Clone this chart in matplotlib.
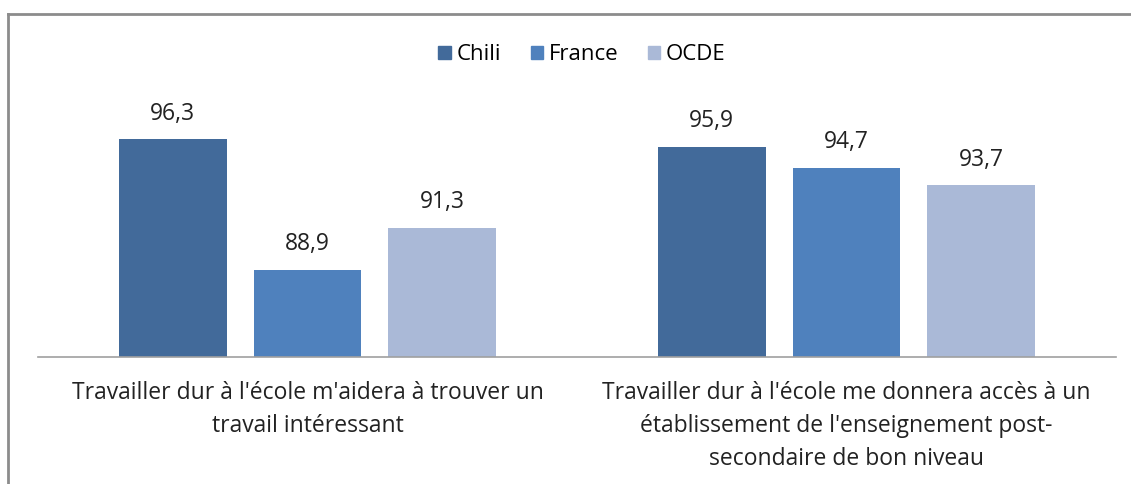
import numpy as np
import matplotlib.pyplot as plt
from matplotlib.lines import Line2D

# Données
categories = ["Travailler dur à l'école m'aidera à trouver un\ntravail intéressant",
              "Travailler dur à l'école me donnera accès à un\nétablissement de l'enseignement post-\nsecondaire de bon niveau"]
series = ["Chili", "France", "OCDE"]
chili = [96.3, 95.9]
france = [88.9, 94.7]
ocde = [91.3, 93.7]
colors = ["#426A9A", "#4F81BD", "#AAB9D7"]

plt.rcParams['font.family'] = ['Open Sans', 'DejaVu Sans']

fig = plt.figure(figsize=(11.31, 4.84), dpi=100)
ax = fig.add_axes([38 / 1131, (484 - 357) / 484, (1116 - 38) / 1131, (357 - 74) / 484])

x = np.arange(len(categories))
width = 0.2
step = 0.25
for i, (name, vals) in enumerate(zip(series, [chili, france, ocde])):
    bars = ax.bar(x + (i - 1) * step, vals, width, color=colors[i], label=name)
    for b, v in zip(bars, vals):
        ax.annotate(f"{v:.1f}".replace(".", ","), (b.get_x() + b.get_width() / 2, v),
                    xytext=(0, 10), textcoords="offset points",
                    ha="center", va="bottom", fontsize=16.5, color="#222222")

ax.set_ylim(84, 100)
ax.set_xlim(-0.5, 1.5)
ax.set_yticks([])
ax.set_xticks(x)
ax.set_xticklabels(categories, fontsize=16.5, color="#222222", linespacing=1.52)
ax.tick_params(axis="x", length=0, pad=17)
for s in ["top", "right", "left"]:
    ax.spines[s].set_visible(False)
ax.spines["bottom"].set_color("#A0A0A0")
ax.spines["bottom"].set_linewidth(1.2)

handles = [plt.Rectangle((0, 0), 1, 1, color=c) for c in colors]
fig.legend(handles, series, loc="center", bbox_to_anchor=(582 / 1131, 1 - 55 / 484),
           ncol=3, frameon=False, fontsize=16, handlelength=0.55, handleheight=0.55,
           handletextpad=0.25, columnspacing=1.35)

# cadre gris
fig.add_artist(Line2D([8 / 1131, 8 / 1131], [0, 1 - 14 / 484], color="#8C8C8C", lw=2,
                      transform=fig.transFigure))
fig.add_artist(Line2D([8 / 1131, 1], [1 - 14 / 484, 1 - 14 / 484], color="#8C8C8C", lw=2,
                      transform=fig.transFigure))

fig.savefig("out.png", dpi=100)
